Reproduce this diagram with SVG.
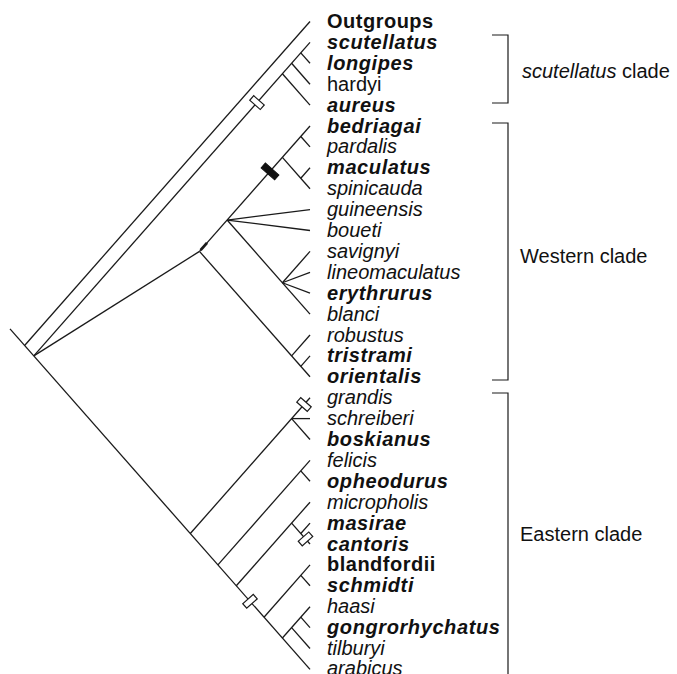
<svg xmlns="http://www.w3.org/2000/svg" width="677" height="674" viewBox="0 0 677 674">
  <style>
    .br { fill: none; stroke: #1a1a1a; stroke-width: 1.3; stroke-linecap: butt; }
    .bk { fill: none; stroke: #1a1a1a; stroke-width: 1.2; }
    text { font-family: "Liberation Sans", Arial, Helvetica, sans-serif; font-size: 20px; fill: #111; }
    .bi { font-weight: bold; font-style: italic; letter-spacing: 0.6px; }
    .b { font-weight: bold; letter-spacing: 0.5px; }
    .i { font-style: italic; }
    .mk { fill: #fff; stroke: #1a1a1a; stroke-width: 1.2; }
    .mkb { fill: #111; stroke: #111; stroke-width: 1; }
  </style>

  <!-- branches of the cladogram -->
  <g id="connectors" class="br">
    <!-- root stem and main spine to arabicus -->
    <path d="M10,328.9 L310,669.4"/>
    <!-- outgroups -->
    <path d="M24.6,345.45 L310,21.5"/>
    <!-- scutellatus clade -->
    <path d="M33.8,355.9 L310,42.4"/>
    <path d="M282.4,73.75 L310,105.1"/>
    <path d="M291.6,63.3 L310,84.2"/>
    <path d="M300.8,52.85 L310,63.3"/>
    <!-- Western clade -->
    <path d="M33.8,355.9 L199.5,251.4"/>
    <path d="M199.5,251.4 L310,126"/>
    <path d="M199.5,251.4 L310,376.8"/>
    <path d="M291.6,355.9 L310,335"/>
    <path d="M300.8,366.35 L310,355.9"/>
    <path d="M227.1,220.05 L310,209.6"/>
    <path d="M227.1,220.05 L310,230.5"/>
    <path d="M227.1,220.05 L310,314.1"/>
    <path d="M282.4,157.35 L310,188.7"/>
    <path d="M300.8,136.45 L310,146.9"/>
    <path d="M300.8,178.25 L310,167.8"/>
    <path d="M282.4,282.75 L310,251.4"/>
    <path d="M282.4,282.75 L310,272.3"/>
    <path d="M282.4,282.75 L310,293.2"/>
    <!-- Eastern clade -->
    <path d="M190.3,533.55 L310,397.7"/>
    <path d="M291.6,418.6 L310,418.6"/>
    <path d="M291.6,418.6 L310,439.5"/>
    <path d="M217.9,564.9 L310,460.4"/>
    <path d="M300.8,470.85 L310,481.3"/>
    <path d="M236.3,585.8 L310,502.2"/>
    <path d="M291.6,523.1 L310,544"/>
    <path d="M300.8,533.55 L310,523.1"/>
    <path d="M264,617.2 L310,564.9"/>
    <path d="M300.8,575.35 L310,585.8"/>
    <path d="M282.4,638.05 L310,606.7"/>
    <path d="M291.6,627.6 L310,648.5"/>
    <path d="M300.8,617.15 L310,627.6"/>
    <!-- thickened stretch just above the Western node -->
    <path d="M200.6,250.2 L207,242.9" stroke-width="2.8"/>
  </g>

  <!-- character-change bars on branches -->
  <g id="bars">
    <rect class="mk" x="-3" y="-7" width="6" height="14" transform="translate(257,102.6) rotate(-48.6)"/>
    <rect class="mkb" x="-3.2" y="-9" width="6.4" height="18" transform="translate(270,171.4) rotate(-48.6)"/>
    <rect class="mk" x="-3" y="-7" width="6" height="14" transform="translate(304,404.5) rotate(-48.6)"/>
    <rect class="mk" x="-3" y="-7" width="6" height="14" transform="translate(305.5,538.9) rotate(48.6)"/>
    <rect class="mk" x="-3" y="-7" width="6" height="14" transform="translate(250,601.3) rotate(48.6)"/>
  </g>

  <!-- terminal taxa -->
  <g id="taxa">
    <g id="t-outgroups"><text class="b" x="327" y="28">Outgroups</text></g>
    <g id="t-scutellatus"><text class="bi" x="327" y="48.9">scutellatus</text></g>
    <g id="t-longipes"><text class="bi" x="327" y="69.8">longipes</text></g>
    <g id="t-hardyi"><text x="327" y="90.7">hardyi</text></g>
    <g id="t-aureus"><text class="bi" x="327" y="111.6">aureus</text></g>
    <g id="t-bedriagai"><text class="bi" x="327" y="132.5">bedriagai</text></g>
    <g id="t-pardalis"><text class="i" x="327" y="153.4">pardalis</text></g>
    <g id="t-maculatus"><text class="bi" x="327" y="174.3">maculatus</text></g>
    <g id="t-spinicauda"><text class="i" x="327" y="195.2">spinicauda</text></g>
    <g id="t-guineensis"><text class="i" x="327" y="216.1">guineensis</text></g>
    <g id="t-boueti"><text class="i" x="327" y="237">boueti</text></g>
    <g id="t-savignyi"><text class="i" x="327" y="257.9">savignyi</text></g>
    <g id="t-lineomaculatus"><text class="i" x="327" y="278.8">lineomaculatus</text></g>
    <g id="t-erythrurus"><text class="bi" x="327" y="299.7">erythrurus</text></g>
    <g id="t-blanci"><text class="i" x="327" y="320.6">blanci</text></g>
    <g id="t-robustus"><text class="i" x="327" y="341.5">robustus</text></g>
    <g id="t-tristrami"><text class="bi" x="327" y="362.4">tristrami</text></g>
    <g id="t-orientalis"><text class="bi" x="327" y="383.3">orientalis</text></g>
    <g id="t-grandis"><text class="i" x="327" y="404.2">grandis</text></g>
    <g id="t-schreiberi"><text class="i" x="327" y="425.1">schreiberi</text></g>
    <g id="t-boskianus"><text class="bi" x="327" y="446">boskianus</text></g>
    <g id="t-felicis"><text class="i" x="327" y="466.9">felicis</text></g>
    <g id="t-opheodurus"><text class="bi" x="327" y="487.8">opheodurus</text></g>
    <g id="t-micropholis"><text class="i" x="327" y="508.7">micropholis</text></g>
    <g id="t-masirae"><text class="bi" x="327" y="529.6">masirae</text></g>
    <g id="t-cantoris"><text class="bi" x="327" y="550.5">cantoris</text></g>
    <g id="t-blandfordii"><text class="b" x="327" y="571.4">blandfordii</text></g>
    <g id="t-schmidti"><text class="bi" x="327" y="592.3">schmidti</text></g>
    <g id="t-haasi"><text class="i" x="327" y="613.2">haasi</text></g>
    <g id="t-gongrorhychatus"><text class="bi" x="327" y="634.1">gongrorhychatus</text></g>
    <g id="t-tilburyi"><text class="i" x="327" y="655">tilburyi</text></g>
    <g id="t-arabicus"><text class="i" x="327" y="675.2">arabicus</text></g>
  </g>

  <!-- clade brackets -->
  <g id="clade-scutellatus">
    <path class="bk" d="M492,35 H508 V103 H492"/>
    <text x="522" y="78"><tspan class="i">scutellatus</tspan> clade</text>
  </g>
  <g id="clade-western">
    <path class="bk" d="M492,123 H508 V380 H492"/>
    <text x="520" y="263">Western clade</text>
  </g>
  <g id="clade-eastern">
    <path class="bk" d="M492,393 H508 V680"/>
    <text x="520" y="541">Eastern clade</text>
  </g>
</svg>
